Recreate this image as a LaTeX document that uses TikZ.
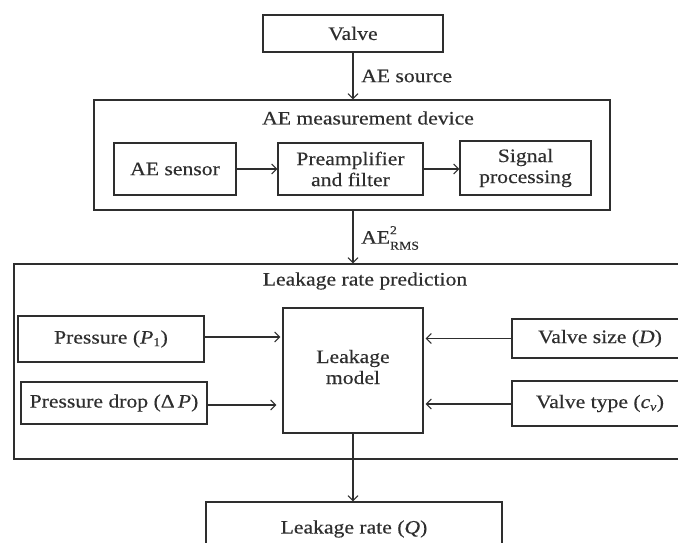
\documentclass[tikz,border=0pt]{standalone}
\usepackage{fontspec}
\setmainfont{Liberation Serif}[FakeStretch=1.14,FakeBold=0.35]
\usetikzlibrary{arrows.meta}
\definecolor{ink}{HTML}{2E2E2E}
\newcommand{\smlsz}[1]{\mbox{\fontsize{12}{12}\selectfont #1}}
\begin{document}
\begin{tikzpicture}[x=1pt,y=-1pt,
  box/.style={draw=ink, line width=1.1pt, rectangle, inner sep=0pt, text=ink, align=center, font=\fontsize{19}{21}\selectfont},
  lbl/.style={text=ink, inner sep=0pt, align=center, font=\fontsize{19}{21}\selectfont},
  arr/.style={draw=ink, line width=1.1pt, -{Straight Barb[length=5pt,width=10pt]}}]
\useasboundingbox (0,0) rectangle (678,543);
\clip (0,0) rectangle (678,543);
\fill[white] (0,0) rectangle (678,543);
% top
\node[box, minimum width=180pt, minimum height=37pt] (valve) at (353,33.5) {Valve};
\node[box, minimum width=516pt, minimum height=110pt] (dev) at (352,155) {};
\node[lbl] (devt) at (368,118) {AE measurement device};
\node[box, minimum width=122pt, minimum height=52pt] (sensor) at (175,169) {AE sensor};
\node[box, minimum width=145pt, minimum height=52pt] (pre) at (350.5,169) {Preamplifier\\and filter};
\node[box, minimum width=131pt, minimum height=54pt] (sig) at (525.5,168) {Signal\\processing};
\node[lbl, anchor=west] (src) at (361,76) {AE source};
\node[lbl, anchor=west] (rms) at (361,238) {AE\rlap{\raisebox{9.5pt}{\smlsz{2}}}\raisebox{-6pt}{\smlsz{RMS}}};
% prediction
\node[box, minimum width=686pt, minimum height=195pt] (pred) at (357,361.5) {};
\node[lbl] (predt) at (365,281) {Leakage rate prediction};
\node[box, minimum width=186pt, minimum height=46pt] (p1) at (111,339) {Pressure (\textit{P}$_{\smlsz{1}}$)};
\node[box, minimum width=186pt, minimum height=42pt] (dp) at (114,403) {Pressure drop (Δ\,\textit{P})};
\node[box, minimum width=140pt, minimum height=125pt] (model) at (353,370.5) {};
\node[lbl] (modelt) at (353,367) {Leakage\\model};
\node[box, minimum width=176pt, minimum height=39pt] (vs) at (600,338.5) {Valve size (\textit{D})};
\node[box, minimum width=176pt, minimum height=45pt] (vt) at (600,403.5) {Valve type (\textit{c}$_{\smlsz{\textit{v}}}$)};
\node[box, minimum width=296pt, minimum height=54pt] (rate) at (354,529) {Leakage rate (\textit{Q})};
% connectors
\draw[arr] (valve.south) -- (valve.south |- dev.north);
\draw[arr] (valve.south |- dev.south) -- (valve.south |- pred.north);
\draw[arr] (sensor.east) -- (pre.west);
\draw[arr] (pre.east) -- (pre.east -| sig.west);
\draw[arr] ([yshift=2pt]p1.east) -- ([yshift=2pt,xshift=-2pt]p1.east -| model.west);
\draw[arr] ([yshift=-2pt]dp.east) -- ([yshift=-2pt,xshift=-6pt]dp.east -| model.west);
\draw[arr] (vs.west) -- ([xshift=2pt]vs.west -| model.east);
\draw[arr] ([yshift=-0.5pt]vt.west) -- ([yshift=-0.5pt,xshift=2pt]vt.west -| model.east);
\draw[arr] (model.south) -- (model.south |- rate.north);
\end{tikzpicture}
\end{document}
